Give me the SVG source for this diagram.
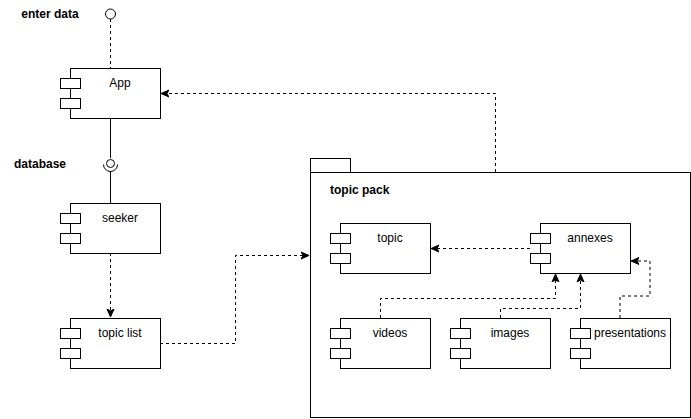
<svg xmlns="http://www.w3.org/2000/svg" width="691" height="419" viewBox="0 0 691 419">
<style>
.box{fill:#fff;stroke:#000;stroke-width:1}
.port{fill:#fff;stroke:#000;stroke-width:1}
.lbl{font-family:"Liberation Sans",Arial,sans-serif;font-size:12px;fill:#000;text-anchor:middle}
.b{font-weight:bold}
.start{text-anchor:start}
.dash{fill:none;stroke:#000;stroke-width:1;stroke-dasharray:3 3}
.solid{fill:none;stroke:#000;stroke-width:1}
</style>
<defs>
<marker id="arr" markerUnits="userSpaceOnUse" markerWidth="10" markerHeight="10" viewBox="0 0 10 10" refX="8" refY="5" orient="auto">
<path d="M0,1.5 L8,5 L0,8.5 L2,5 Z" fill="#000" stroke="#000" stroke-width="1"/>
</marker>
</defs>
<rect width="691" height="419" fill="#fff"/>

<g id="topic-pack">
<rect class="box" x="310.5" y="158.5" width="40" height="14"/>
<rect class="box" x="310.5" y="172.5" width="380" height="245"/>
<text class="lbl b start" x="330" y="194">topic pack</text>
</g>

<g id="connectors">
<path class="dash" d="M110.5,19 L110.5,68"/>
<path class="solid" d="M110.5,118 L110.5,158"/>
<path class="solid" d="M110.5,171 L110.5,203"/>
<path class="dash" d="M110.5,253 L110.5,317" marker-end="url(#arr)"/>
<path class="dash" d="M160,343.5 L235.5,343.5 L235.5,255.5 L309,255.5" marker-end="url(#arr)"/>
<path class="dash" d="M495.5,172 L495.5,93.5 L161,93.5" marker-end="url(#arr)"/>
<path class="dash" d="M530,248.5 L431,248.5" marker-end="url(#arr)"/>
<path class="dash" d="M380.5,318 L380.5,298.5 L555.5,298.5 L555.5,274" marker-end="url(#arr)"/>
<path class="dash" d="M500.5,318 L500.5,308.5 L580.5,308.5 L580.5,274" marker-end="url(#arr)"/>
<path class="dash" d="M620,318 L620,296 L650,296 L650,261 L631,261" marker-end="url(#arr)"/>
</g>

<g id="enter-data">
<circle cx="110.5" cy="14" r="5" fill="#fff" stroke="#000"/>
<text class="lbl b" x="50" y="18">enter data</text>
</g>

<g id="database">
<circle cx="110.5" cy="163.5" r="4" fill="#fff" stroke="#000"/>
<path class="solid" d="M103.5,164.5 A7,7 0 0 0 117.5,164.5"/>
<text class="lbl b" x="40" y="168">database</text>
</g>

<g id="app">
<rect class="box" x="70.5" y="68.5" width="90" height="50"/>
<rect class="port" x="60.5" y="78.5" width="20" height="10"/>
<rect class="port" x="60.5" y="98.5" width="20" height="10"/>
<text class="lbl" x="120" y="87">App</text>
</g>

<g id="seeker">
<rect class="box" x="70.5" y="203.5" width="90" height="50"/>
<rect class="port" x="60.5" y="213.5" width="20" height="10"/>
<rect class="port" x="60.5" y="233.5" width="20" height="10"/>
<text class="lbl" x="120" y="222">seeker</text>
</g>

<g id="topic-list">
<rect class="box" x="70.5" y="318.5" width="90" height="50"/>
<rect class="port" x="60.5" y="328.5" width="20" height="10"/>
<rect class="port" x="60.5" y="348.5" width="20" height="10"/>
<text class="lbl" x="120" y="337">topic list</text>
</g>

<g id="topic">
<rect class="box" x="340.5" y="223.5" width="90" height="50"/>
<rect class="port" x="330.5" y="233.5" width="20" height="10"/>
<rect class="port" x="330.5" y="253.5" width="20" height="10"/>
<text class="lbl" x="390" y="242">topic</text>
</g>

<g id="annexes">
<rect class="box" x="540.5" y="223.5" width="90" height="50"/>
<rect class="port" x="530.5" y="233.5" width="20" height="10"/>
<rect class="port" x="530.5" y="253.5" width="20" height="10"/>
<text class="lbl" x="590" y="242">annexes</text>
</g>

<g id="videos">
<rect class="box" x="340.5" y="318.5" width="90" height="50"/>
<rect class="port" x="330.5" y="328.5" width="20" height="10"/>
<rect class="port" x="330.5" y="348.5" width="20" height="10"/>
<text class="lbl" x="390" y="337">videos</text>
</g>

<g id="images">
<rect class="box" x="460.5" y="318.5" width="90" height="50"/>
<rect class="port" x="450.5" y="328.5" width="20" height="10"/>
<rect class="port" x="450.5" y="348.5" width="20" height="10"/>
<text class="lbl" x="510" y="337">images</text>
</g>

<g id="presentations">
<rect class="box" x="580.5" y="318.5" width="90" height="50"/>
<rect class="port" x="570.5" y="328.5" width="20" height="10"/>
<rect class="port" x="570.5" y="348.5" width="20" height="10"/>
<text class="lbl" x="630" y="337">presentations</text>
</g>
</svg>
